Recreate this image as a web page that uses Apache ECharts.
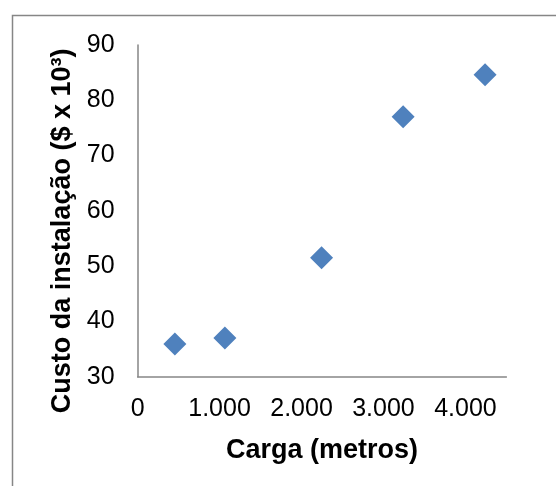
<!DOCTYPE html>
<html>
<head>
<meta charset="utf-8">
<style>
  html, body { margin: 0; padding: 0; background: #fff; }
  #chart { width: 556px; height: 486px; }
</style>
<script src="https://cdn.jsdelivr.net/npm/echarts@6/dist/echarts.min.js"></script>
</head>
<body>
<div id="chart"></div>
<script>
// Installation cost versus load
const carga = [455, 1065, 2245, 3240, 4240];          // metros
const custo = [35.9, 37.0, 51.5, 77.0, 84.6];         // $ x 10^3
const xTicks = [0, 1000, 2000, 3000, 4000];
const yTicks = [30, 40, 50, 60, 70, 80, 90];

const points = carga.map((c, i) => [c, custo[i]]);
const axisColor = '#868686';
const font = '"Liberation Sans", Arial, sans-serif';

const chart = echarts.init(document.getElementById('chart'), null, { renderer: 'canvas' });
chart.setOption({
  animation: false,
  backgroundColor: '#ffffff',
  graphic: [{
    type: 'rect',
    shape: { x: 12.5, y: 15.5, width: 600, height: 520 },
    style: { fill: 'none', stroke: axisColor, lineWidth: 1.5 },
    silent: true,
    z: -1
  }],
  grid: { left: 137.6, top: 45, right: 49.6, bottom: 109.3, containLabel: false },
  xAxis: {
    type: 'value',
    min: 0,
    max: 4500,
    interval: 1000,
    name: 'Carga (metros)',
    nameLocation: 'middle',
    nameGap: 60,
    nameTextStyle: { fontFamily: font, fontSize: 27, fontWeight: 'bold', color: '#000' },
    splitLine: { show: false },
    axisTick: { show: false },
    axisLine: { show: true, lineStyle: { color: axisColor, width: 1.5 } },
    axisLabel: {
      fontFamily: font, fontSize: 25, color: '#000', margin: 20,
      formatter: v => xTicks.includes(v) ? v.toLocaleString('de-DE') : ''
    }
  },
  yAxis: {
    type: 'value',
    min: yTicks[0],
    max: yTicks[yTicks.length - 1],
    interval: 10,
    name: 'Custo da instalação ($ x 10³)',
    nameLocation: 'middle',
    nameRotate: 90,
    nameGap: 54,
    nameTextStyle: {
      fontFamily: font, fontSize: 27, fontWeight: 'bold', color: '#000',
      padding: [0, 40, 0, 0]
    },
    splitLine: { show: false },
    axisTick: { show: false },
    axisLine: { show: true, lineStyle: { color: axisColor, width: 1.5 } },
    axisLabel: { fontFamily: font, fontSize: 25, color: '#000', margin: 23 }
  },
  series: [{
    type: 'scatter',
    data: points,
    symbol: 'diamond',
    symbolSize: 23,
    itemStyle: { color: '#4F81BD', opacity: 1 }
  }]
});
</script>
</body>
</html>
